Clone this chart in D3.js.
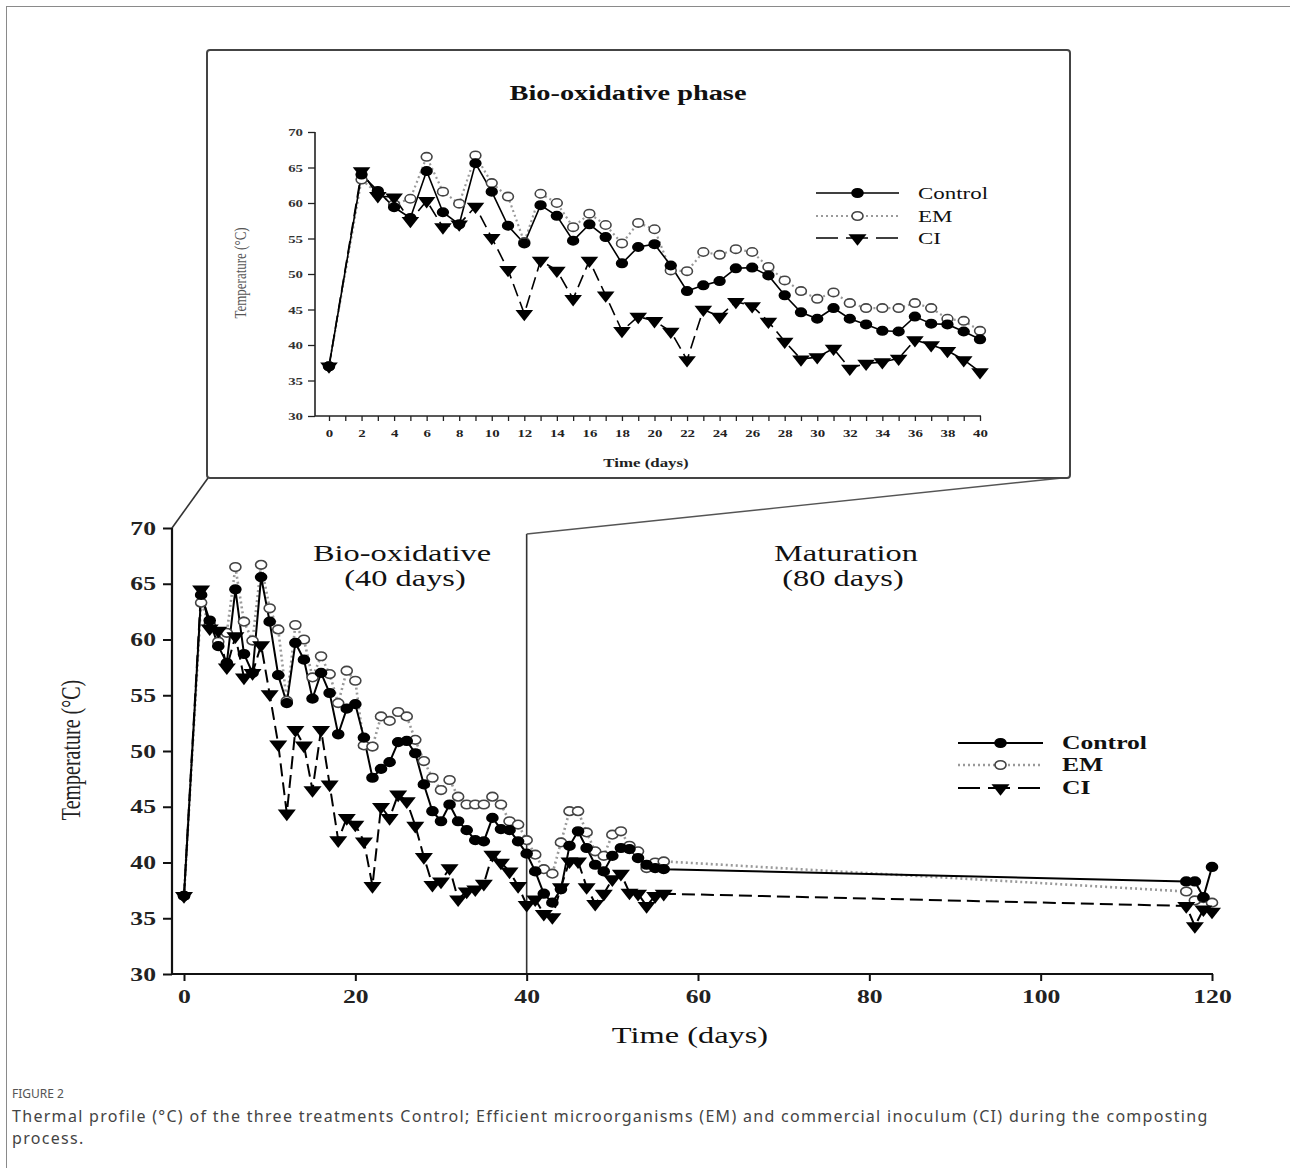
<!DOCTYPE html>
<html>
<head>
<meta charset="utf-8">
<script src="https://cdn.jsdelivr.net/npm/d3@7"></script>
<style>
body { margin: 0; background: #fff; }
svg text { font-family: "Liberation Serif", "Times New Roman", serif; }
svg text.cap { font-family: "Noto Sans", sans-serif; }
</style>
</head>
<body>
<svg width="1290" height="1168"></svg>
<script>

// sampling days (bio-oxidative 0-40, maturation readings)
var days = [0,2,3,4,5,6,7,8,9,10,11,12,13,14,15,16,17,18,19,20,21,22,23,24,25,26,27,28,29,30,
            31,32,33,34,35,36,37,38,39,40,41,42,43,44,45,46,47,48,49,50,51,52,53,54,55,56,
            117,118,119,120];
var control = [37.0,64.0,61.7,59.4,57.9,64.5,58.7,57.0,65.6,61.6,56.8,54.3,59.7,58.2,54.7,57.0,55.2,51.5,53.8,54.2,
               51.2,47.6,48.4,49.0,50.8,50.9,49.8,47.0,44.6,43.7,45.2,43.7,42.9,42.0,41.9,44.0,43.0,42.9,41.9,40.8,
               39.2,37.2,36.4,37.6,41.5,42.8,41.3,39.8,39.2,40.6,41.3,41.2,40.4,39.8,39.5,39.4,
               38.3,38.3,36.9,39.6];
var em = [37.0,63.3,61.3,59.8,60.6,66.5,61.6,59.9,66.7,62.8,60.9,54.5,61.3,60.0,56.6,58.5,56.9,54.3,57.2,56.3,
          50.5,50.4,53.1,52.7,53.5,53.1,51.0,49.1,47.6,46.5,47.4,45.9,45.2,45.2,45.2,45.9,45.2,43.7,43.4,42.0,
          40.7,39.4,39.0,41.8,44.6,44.6,42.7,41.0,40.6,42.5,42.8,41.5,41.0,39.5,40.0,40.1,
          37.4,36.6,36.8,36.4];
var ci = [37.0,64.5,61.0,60.8,57.5,60.3,56.6,57.0,59.5,55.1,50.6,44.4,51.9,50.5,46.5,51.9,47.0,42.0,44.0,43.4,
          41.9,37.9,45.0,44.0,46.1,45.5,43.3,40.5,38.0,38.3,39.5,36.7,37.4,37.6,38.1,40.7,40.0,39.2,37.9,36.2,
          36.7,35.4,35.1,37.8,40.1,40.1,37.8,36.3,37.2,38.5,39.0,37.3,37.2,36.1,37.0,37.2,
          36.1,34.3,35.8,35.6];
var seriesNames = ["Control", "EM", "CI"];
var yTicks = [30,35,40,45,50,55,60,65,70];
var mainXTicks = [0,20,40,60,80,100,120];
var insetXLabels = [0,2,4,6,8,10,12,14,16,18,20,22,24,26,28,30,32,34,36,38,40];

var svg = d3.select("svg");
var K = 1.35; // the scanned figure is stretched sideways

function stretch(sel, rot) {
  sel.each(function() {
    var t = d3.select(this), x = +t.attr("x") || 0, y = +t.attr("y") || 0;
    t.attr("x", null).attr("y", null)
      .attr("transform", "translate(" + x + "," + y + ") scale(" + K + ",1)" + (rot ? " rotate(-90)" : ""));
  });
}
function label(g, x, y, txt, size, weight, anchor, fill, rot) {
  return g.append("text").attr("x", x).attr("y", y)
    .attr("font-size", size).attr("font-weight", weight)
    .attr("text-anchor", anchor).attr("fill", fill)
    .text(txt).call(stretch, rot);
}

var styles = {
  Control: {stroke: "#000", dash: null, marker: "filled"},
  EM: {stroke: "#9a9a9a", dash: "2,3", marker: "open"},
  CI: {stroke: "#000", dash: "13,6", marker: "tri"}
};
var series = [
  {name: "EM", values: em},
  {name: "CI", values: ci},
  {name: "Control", values: control}
].map(function(s) {
  return {name: s.name, points: days.map(function(d, i) { return {day: d, t: s.values[i]}; })};
});

function marker(g, type, x, y, r) {
  if (type === "tri") {
    g.append("path")
      .attr("d", d3.symbol().type(d3.symbolTriangle).size(r * r * 4.2)())
      .attr("transform", "translate(" + x + "," + y + ") scale(" + K + ",1) rotate(180)")
      .attr("fill", "#000");
  } else {
    g.append("ellipse").attr("cx", x).attr("cy", y).attr("rx", r * K * 0.95).attr("ry", r)
      .attr("fill", type === "filled" ? "#000" : "#fff")
      .attr("stroke", type === "filled" ? "#000" : "#444").attr("stroke-width", 1.6);
  }
}

function drawSeries(g, x, y, pts, lw, r) {
  series.forEach(function(s) {
    var st = styles[s.name];
    var p = s.points.filter(pts);
    g.append("path").datum(p)
      .attr("d", d3.line().x(function(d) { return x(d.day); }).y(function(d) { return y(d.t); }))
      .attr("fill", "none").attr("stroke", st.stroke)
      .attr("stroke-width", s.name === "EM" ? lw + 0.6 : lw)
      .attr("stroke-dasharray", st.dash);
  });
  series.forEach(function(s) {
    var st = styles[s.name];
    s.points.filter(pts).forEach(function(d) { marker(g, st.marker, x(d.day), y(d.t), r); });
  });
}

function legend(g, x0, x1, ys, size, weight, lw) {
  seriesNames.forEach(function(n, i) {
    var st = styles[n];
    g.append("line").attr("x1", x0).attr("x2", x1).attr("y1", ys[i]).attr("y2", ys[i])
      .attr("stroke", st.stroke).attr("stroke-width", n === "EM" ? lw + 0.6 : lw)
      .attr("stroke-dasharray", n === "CI" ? "22,8" : st.dash);
    marker(g, st.marker, (x0 + x1) / 2, ys[i], 4.3);
    label(g, x1 + 19, ys[i] + 6, n, size, weight, "start", "#111");
  });
}

// outer frame of the figure panel
svg.append("line").attr("x1", 6).attr("x2", 1290).attr("y1", 6.5).attr("y2", 6.5).attr("stroke", "#8a8a8a");
svg.append("line").attr("x1", 6.5).attr("x2", 6.5).attr("y1", 6).attr("y2", 1168).attr("stroke", "#8a8a8a");

// ---------- main chart ----------
var xM = d3.scaleLinear().domain([0, 120]).range([184, 1212]);
var yM = d3.scaleLinear().domain([30, 70]).range([974, 528]);
var gM = svg.append("g");
var left = xM(0) - 12;

// zoom connectors to the inset box
gM.append("line").attr("x1", left).attr("y1", yM(70)).attr("x2", 208).attr("y2", 478)
  .attr("stroke", "#333").attr("stroke-width", 1.6);
gM.append("line").attr("x1", xM(40)).attr("y1", yM(30)).attr("x2", xM(40)).attr("y2", 534)
  .attr("stroke", "#333").attr("stroke-width", 1.6);
gM.append("line").attr("x1", xM(40)).attr("y1", 534).attr("x2", 1062).attr("y2", 478)
  .attr("stroke", "#555").attr("stroke-width", 1.5);

gM.append("g").attr("transform", "translate(0," + yM(30) + ")")
  .call(d3.axisBottom(xM).tickValues(mainXTicks).tickSize(7).tickSizeOuter(0).tickPadding(9))
  .call(function(a) {
    a.select(".domain").remove();
    a.selectAll("line").attr("stroke", "#111").attr("stroke-width", 2);
    a.selectAll("text").attr("font-size", 19).attr("font-weight", "bold").attr("fill", "#222")
      .attr("font-family", "Liberation Serif").call(stretch);
  });
gM.append("g").attr("transform", "translate(" + left + ",0)")
  .call(d3.axisLeft(yM).tickValues(yTicks).tickSize(9).tickSizeOuter(0).tickPadding(7))
  .call(function(a) {
    a.select(".domain").remove();
    a.selectAll("line").attr("stroke", "#111").attr("stroke-width", 2);
    a.selectAll("text").attr("font-size", 19).attr("font-weight", "bold").attr("fill", "#222")
      .attr("font-family", "Liberation Serif").call(stretch);
  });
gM.append("line").attr("x1", left).attr("x2", xM(120) + 1).attr("y1", yM(30)).attr("y2", yM(30))
  .attr("stroke", "#111").attr("stroke-width", 2.2);
gM.append("line").attr("x1", left).attr("x2", left).attr("y1", yM(30)).attr("y2", yM(70))
  .attr("stroke", "#111").attr("stroke-width", 2.2);

drawSeries(gM, xM, yM, function() { return true; }, 2, 4.3);

label(gM, 402, 561, "Bio-oxidative", 24, "normal", "middle", "#111");
label(gM, 405, 586, "(40 days)", 24, "normal", "middle", "#111");
label(gM, 846, 561, "Maturation", 24, "normal", "middle", "#111");
label(gM, 843, 586, "(80 days)", 24, "normal", "middle", "#111");
label(gM, 690, 1043, "Time (days)", 24, "normal", "middle", "#111");
label(gM, 80, 750, "Temperature (\u00b0C)", 20, "normal", "middle", "#222", true);

legend(gM, 958, 1043, [743, 765, 788], 19, "bold", 2);

// ---------- inset: bio-oxidative phase ----------
var gI = svg.append("g");
gI.append("rect").attr("x", 207).attr("y", 50).attr("width", 863).attr("height", 428).attr("rx", 3)
  .attr("fill", "#fff").attr("stroke", "#444").attr("stroke-width", 2);

var xI = d3.scaleLinear().domain([0, 40]).range([329, 980]);
var yI = d3.scaleLinear().domain([30, 70]).range([416, 132]);
var leftI = 315;

gI.append("g").attr("transform", "translate(0," + yI(30) + ")")
  .call(d3.axisBottom(xI).tickValues(d3.range(0, 41)).tickSize(5).tickSizeOuter(0).tickPadding(8)
    .tickFormat(function(d) { return insetXLabels.indexOf(d) >= 0 ? d : ""; }))
  .call(function(a) {
    a.select(".domain").remove();
    a.selectAll("line").attr("stroke", "#222").attr("stroke-width", 1.3);
    a.selectAll("text").attr("font-size", 11).attr("font-weight", "bold").attr("fill", "#222")
      .attr("font-family", "Liberation Serif").call(stretch);
  });
gI.append("g").attr("transform", "translate(" + leftI + ",0)")
  .call(d3.axisLeft(yI).tickValues(yTicks).tickSize(7).tickSizeOuter(0).tickPadding(5))
  .call(function(a) {
    a.select(".domain").remove();
    a.selectAll("line").attr("stroke", "#222").attr("stroke-width", 1.3);
    a.selectAll("text").attr("font-size", 11).attr("font-weight", "bold").attr("fill", "#333")
      .attr("font-family", "Liberation Serif").call(stretch);
  });
gI.append("line").attr("x1", leftI).attr("x2", xI(40) + 1).attr("y1", yI(30)).attr("y2", yI(30))
  .attr("stroke", "#222").attr("stroke-width", 1.6);
gI.append("line").attr("x1", leftI).attr("x2", leftI).attr("y1", yI(30)).attr("y2", yI(70))
  .attr("stroke", "#222").attr("stroke-width", 1.6);

drawSeries(gI, xI, yI, function(d) { return d.day <= 40; }, 1.6, 4.2);

label(gI, 628, 100, "Bio-oxidative phase", 21, "bold", "middle", "#111");
label(gI, 646, 467, "Time (days)", 12.5, "bold", "middle", "#222");
label(gI, 246, 273, "Temperature (\u00b0C)", 13, "normal", "middle", "#555", true);

legend(gI, 816, 899, [193, 216, 238], 17, "normal", 1.6);

// ---------- caption ----------
svg.append("text").attr("class", "cap").attr("x", 12).attr("y", 1098)
  .attr("font-size", 12).attr("fill", "#555").text("FIGURE 2");
svg.append("text").attr("class", "cap").attr("x", 12).attr("y", 1122)
  .attr("font-size", 16).attr("letter-spacing", 1.3).attr("fill", "#444")
  .text("Thermal profile (\u00b0C) of the three treatments Control; Efficient microorganisms (EM) and commercial inoculum (CI) during the composting");
svg.append("text").attr("class", "cap").attr("x", 12).attr("y", 1144)
  .attr("font-size", 16).attr("letter-spacing", 1.3).attr("fill", "#444").text("process.");

</script>
</body>
</html>
